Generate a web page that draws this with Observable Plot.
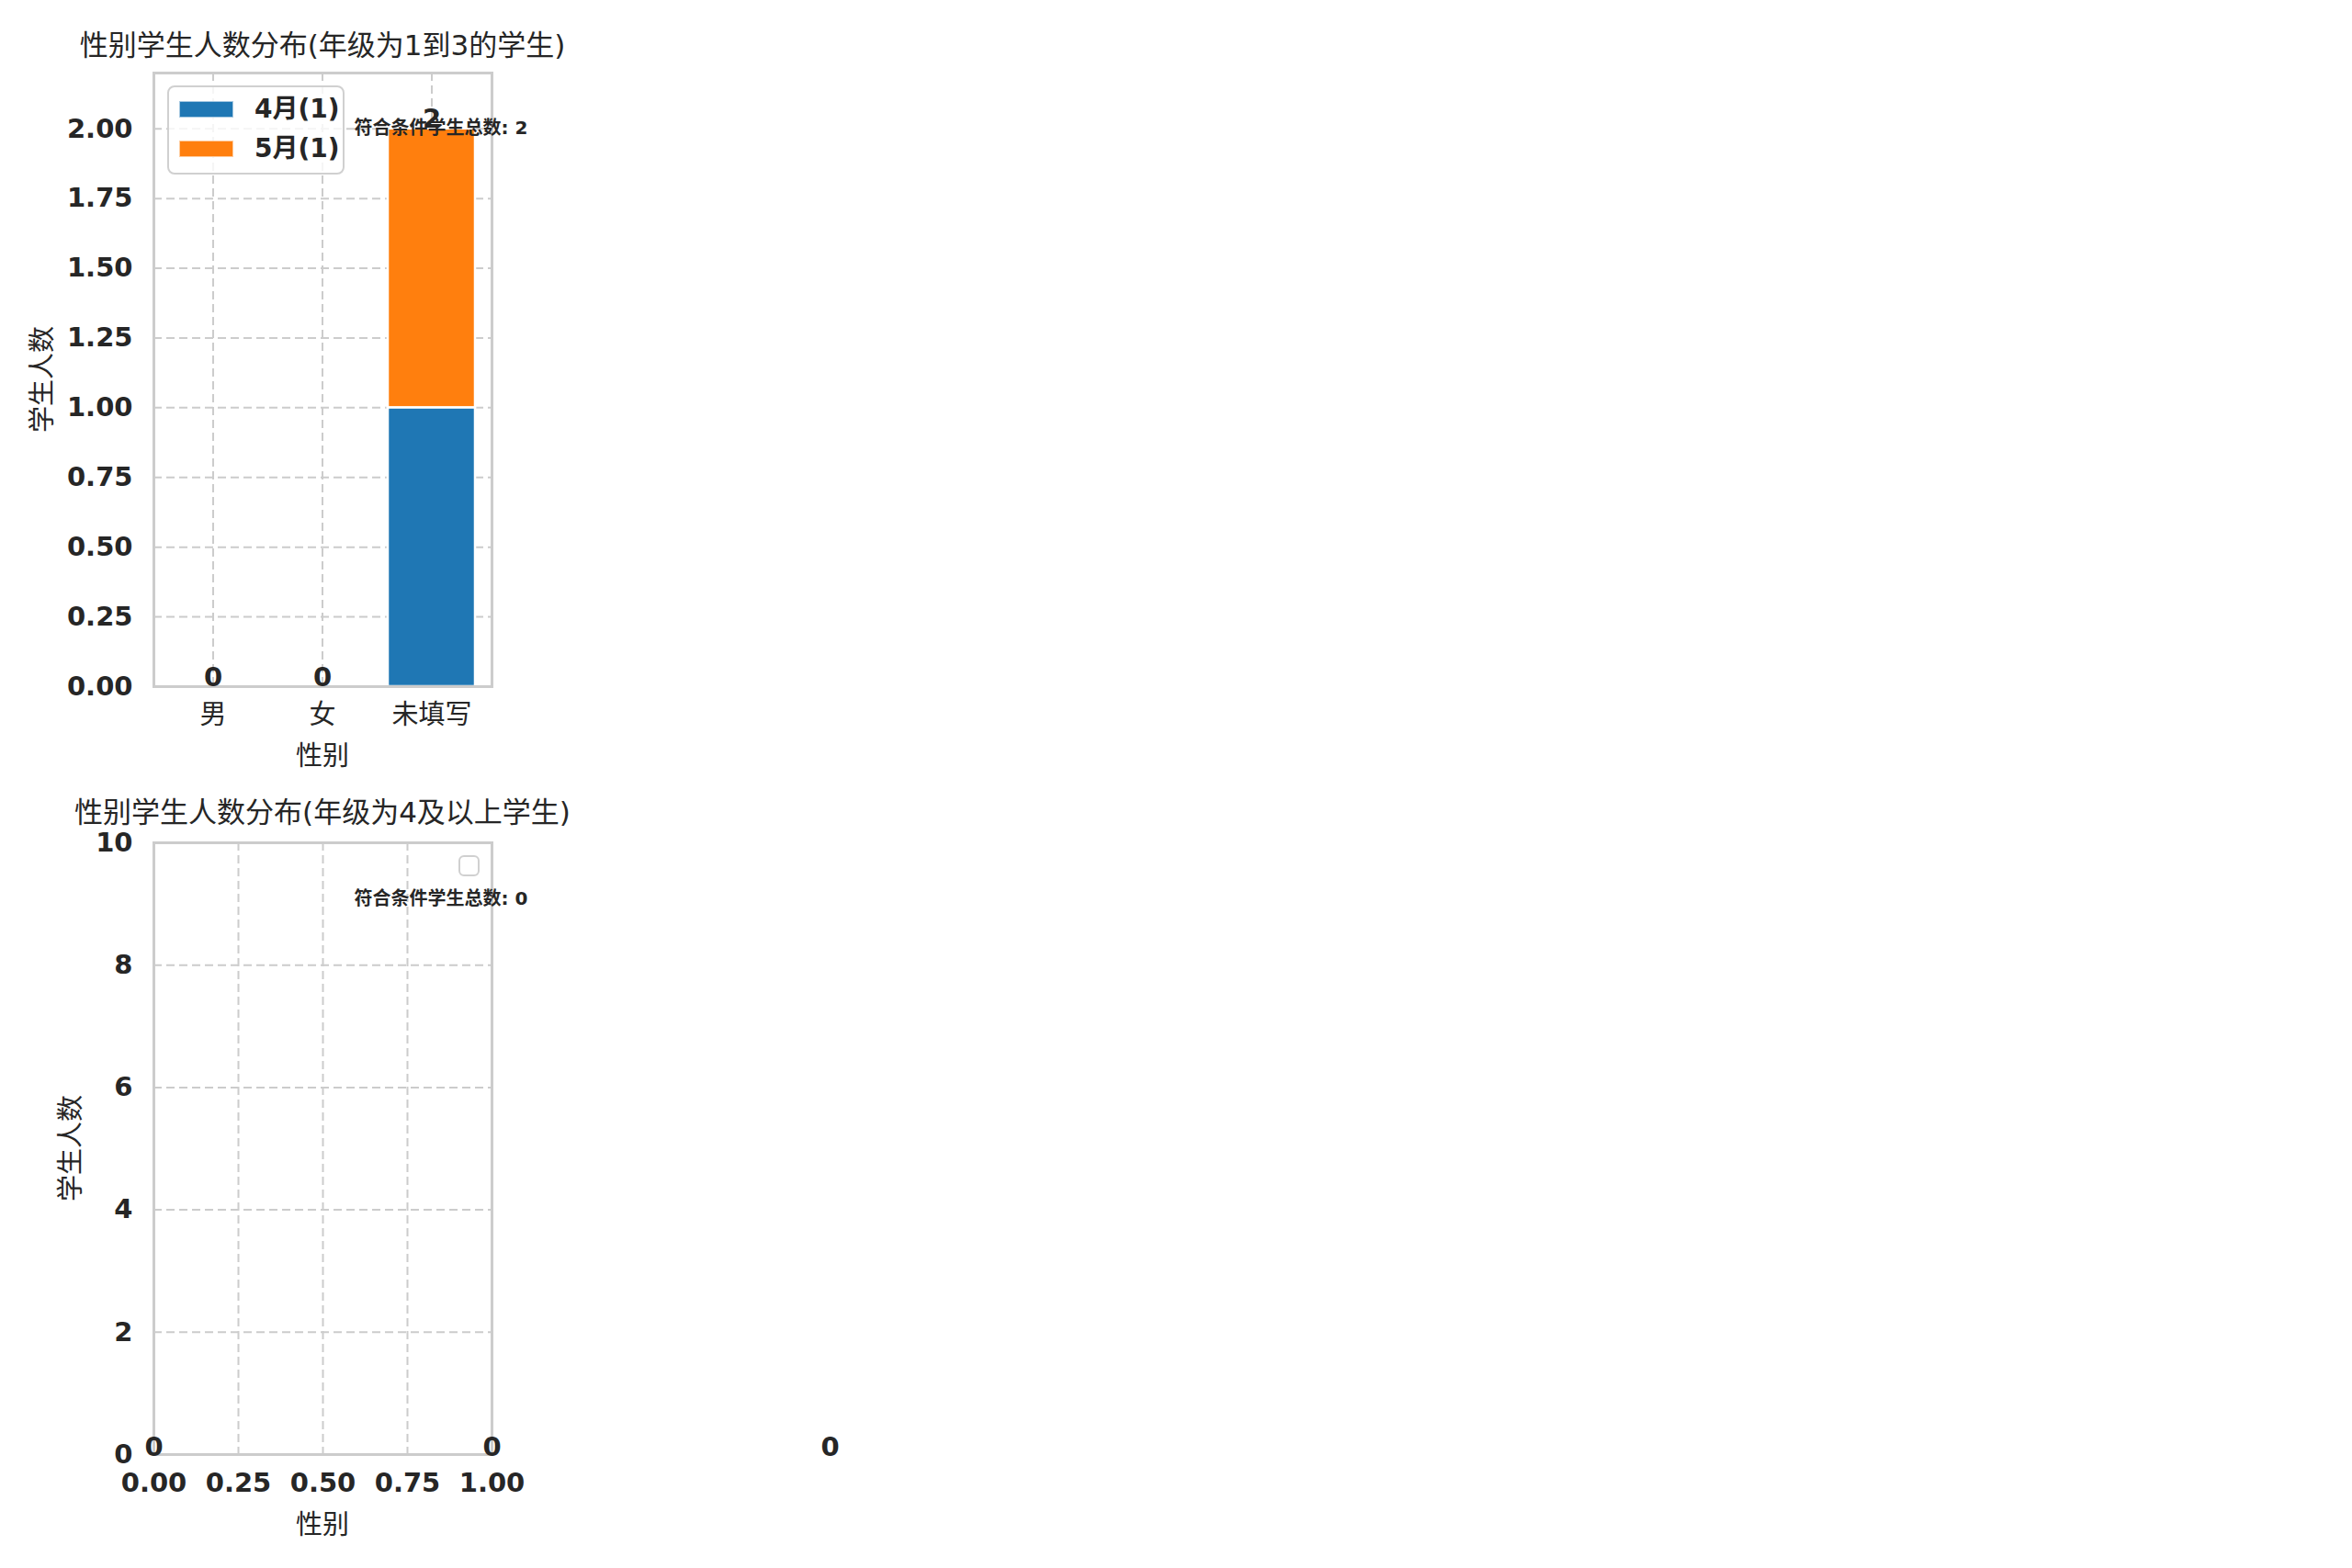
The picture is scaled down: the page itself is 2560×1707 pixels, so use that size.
<!DOCTYPE html>
<html><head><meta charset="utf-8">
<script src="https://cdn.jsdelivr.net/npm/d3@7"></script>
<script src="https://cdn.jsdelivr.net/npm/@observablehq/plot@0.6"></script>
<style>
body{margin:0;background:#fff;}
#fig{position:relative;width:2560px;height:1707px;background:#fff;overflow:hidden;
 font-family:"DejaVu Sans","Noto Sans CJK SC",sans-serif;color:#262626;}
.abs{position:absolute;white-space:nowrap;line-height:1;}
.c{transform:translate(-50%,-50%);}
.panel{position:absolute;left:0;}
</style></head><body><div id="fig"></div>
<script>
// ---- data ----
const categories = ["男", "女", "未填写"];
const months = ["4月", "5月"];
const legendLabels = ["4月(1)", "5月(1)"];
const aprilCounts = [0, 0, 1];
const mayCounts = [0, 0, 1];
const totalsTop = [0, 0, 2];
const yTicksTop = [0, 0.25, 0.5, 0.75, 1, 1.25, 1.5, 1.75, 2];
const yDomainTop = [0, 2.2];
const xTicksBottom = [0, 0.25, 0.5, 0.75, 1];
const yTicksBottom = [0, 2, 4, 6, 8, 10];
const yDomainBottom = [0, 10];
const labelPosBottom = [0, 1, 2];
const totalsBottom = [0, 0, 0];
const colors = ["#1f77b4", "#ff7f0e"];
const titles = ["性别学生人数分布(年级为1到3的学生)", "性别学生人数分布(年级为4及以上学生)"];
const xLabel = "性别";
const yLabel = "学生人数";
const notePrefix = "符合条件学生总数";
const noteTotals = [2, 0];

// ---- layout ----
const fig = document.getElementById("fig");
const FONT = '"DejaVu Sans","Noto Sans CJK SC",sans-serif';
const W = 1000, ML = 167, MR = W - 535;
const GRID = {stroke: "#cccccc", strokeOpacity: 1, strokeWidth: 2, strokeDasharray: "9,5"};
const style = {fontFamily: FONT, fontSize: "29px", color: "#262626", background: "transparent", overflow: "visible"};

function addDiv(html, css, cls = "abs") {
  const d = document.createElement("div");
  d.className = cls;
  d.innerHTML = html;
  Object.assign(d.style, css);
  fig.appendChild(d);
  return d;
}

// ---- top panel ----
const rows = [];
categories.forEach((c, i) => {
  [aprilCounts, mayCounts].forEach((arr, j) => {
    if (arr[i] > 0) rows.push({cat: c, month: months[j], value: arr[i]});
  });
});
const totRows = categories.map((c, i) => ({cat: c, total: totalsTop[i]}));

const topPanel = Plot.plot({
  width: W, height: 860,
  marginLeft: ML, marginRight: MR, marginTop: 79, marginBottom: 113,
  style,
  x: {type: "band", domain: categories, paddingInner: 0.2, paddingOuter: 0.14},
  y: {domain: yDomainTop},
  color: {domain: months, range: colors},
  marks: [
    Plot.gridY(yTicksTop, GRID),
    Plot.gridX(categories, GRID),
    Plot.barY(rows, {x: "cat", y: "value", fill: "month", stroke: "white", strokeWidth: 2.5, order: months}),
    Plot.frame({stroke: "#cccccc", strokeWidth: 3}),
    Plot.axisY(yTicksTop, {tickSize: 0, tickPadding: 23, tickFormat: d3.format(".2f"), fontSize: 29, fontWeight: "bold", label: null}),
    Plot.axisX(categories, {tickSize: 0, tickPadding: 20, fontSize: 29, label: null}),
    Plot.text(totRows, {x: "cat", y: "total", text: d => String(d.total), lineAnchor: "bottom", dy: -1, fontSize: 29, fontWeight: "bold"}),
    Plot.text([`${notePrefix}: ${noteTotals[0]}`], {frameAnchor: "top-right", textAnchor: "end", lineAnchor: "middle", dx: 39, dy: 60, fontSize: 20, fontWeight: "bold"})
  ]
});
topPanel.classList.add("panel");
topPanel.style.top = "0px";
fig.appendChild(topPanel);

// ---- bottom panel ----
const labRows = labelPosBottom.map((p, i) => ({x: p, total: totalsBottom[i]}));
const bottomPanel = Plot.plot({
  width: W, height: 847,
  marginLeft: ML, marginRight: MR, marginTop: 57, marginBottom: 124,
  style,
  x: {domain: [0, 1]},
  y: {domain: yDomainBottom},
  marks: [
    Plot.gridY(yTicksBottom, GRID),
    Plot.gridX(xTicksBottom, GRID),
    Plot.frame({stroke: "#cccccc", strokeWidth: 3}),
    Plot.axisY(yTicksBottom, {tickSize: 0, tickPadding: 23, tickFormat: d3.format("d"), fontSize: 29, fontWeight: "bold", label: null}),
    Plot.axisX(xTicksBottom, {tickSize: 0, tickPadding: 20, tickFormat: d3.format(".2f"), fontSize: 29, fontWeight: "bold", label: null}),
    Plot.text(labRows, {x: "x", y: 0, text: d => String(d.total), lineAnchor: "bottom", dy: 1, fontSize: 29, fontWeight: "bold"}),
    Plot.text([`${notePrefix}: ${noteTotals[1]}`], {frameAnchor: "top-right", textAnchor: "end", lineAnchor: "middle", dx: 39, dy: 61, fontSize: 20, fontWeight: "bold"})
  ]
});
bottomPanel.classList.add("panel");
bottomPanel.style.top = "860px";
fig.appendChild(bottomPanel);

// ---- titles & axis labels ----
addDiv(titles[0], {left: "351px", top: "49px", fontSize: "31px"}, "abs c");
addDiv(titles[1], {left: "351px", top: "884px", fontSize: "31px"}, "abs c");
addDiv(xLabel, {left: "351px", top: "823px", fontSize: "29px"}, "abs c");
addDiv(xLabel, {left: "351px", top: "1660px", fontSize: "29px"}, "abs c");
addDiv(yLabel, {left: "46px", top: "413px", fontSize: "29px", transform: "translate(-50%,-50%) rotate(-90deg)"});
addDiv(yLabel, {left: "77px", top: "1250px", fontSize: "29px", transform: "translate(-50%,-50%) rotate(-90deg)"});

// ---- legend (top) ----
addDiv("", {left: "182px", top: "93px", width: "193px", height: "97px",
  border: "2.5px solid #d0d0d0", borderRadius: "8px", background: "rgba(255,255,255,0.8)", boxSizing: "border-box"});
legendLabels.forEach((lab, i) => {
  addDiv("", {left: "195px", top: (110 + i * 43) + "px", width: "59px", height: "18px", background: colors[i],
    boxSizing: "border-box", border: "1px solid rgba(255,255,255,0.6)"});
  addDiv(lab, {left: "277px", top: (119 + i * 43) + "px", fontSize: "28px", fontWeight: "bold", transform: "translateY(-50%)"});
});
// ---- empty legend (bottom) ----
addDiv("", {left: "499px", top: "931px", width: "23px", height: "23px", border: "2.5px solid #d0d0d0",
  borderRadius: "6px", boxSizing: "border-box", background: "rgba(255,255,255,0.8)"});
</script></body></html>
